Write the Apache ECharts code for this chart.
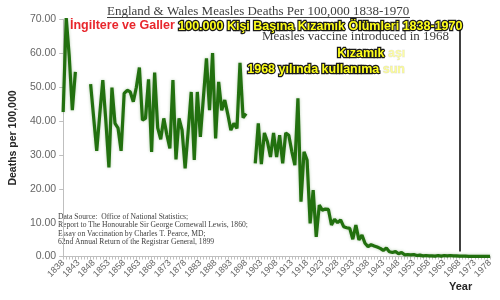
<!DOCTYPE html>
<html>
<head>
<meta charset="utf-8">
<script src="https://cdn.jsdelivr.net/npm/echarts@6/dist/echarts.min.js"></script>
<style>
  html, body { margin: 0; padding: 0; background: #fff; }
  #chart { width: 500px; height: 300px; }
</style>
</head>
<body>
<div id="chart"></div>
<script>
// years on the category axis
var years = [];
for (var y = 1838; y <= 1978; y++) years.push(String(y));

// deaths per 100,000 (null = no data)
var deaths1838 = [42.7, 70.5, 59, 43.2, 54.5, null, null, null, null];
var deaths1847 = [50.9, 41, 31.2, 42, 52.1, 40, 26.3, 49.9, 39.3, 37.9,
                  31.2, 48.2, 49.1, 48.6, 45.7, 50, 55.8, 40.3, 40.8, 52.3,
                  30.9, 54.3, 38, 34.6, 40.8, 36, 31.9, 52.1, 28.7, 40.8,
                  37.3, 26, 37, 48.6, 28.5, 48.6, 35.3, 47, 58.5, 43.2,
                  60.1, 34.9, 51.6, 43.2, 46.2, 42, 37.3, 39.3, 37.8, 57.2,
                  41, 42.2, null, null];
var deaths1901 = [27.5, 39.3, 27.3, 36.5, 33.9, 29.4, 36.5, 29.4, 35.8, 27.5,
                  36.5, 35.8, 31, 27, 46.7, 16.2, 30.9, 28.5, 9.8, 19.6,
                  5.8, 15.2, 13.7, 14, 13.9, 9.3, 11, 10, 10.8, 8.8,
                  8.5, 8.3, 5.1, 9.3, 4.9, 6.3, 3.9, 2.9, 3.5, 3.1,
                  2.8, 2.4, 1.8, 2.5, 1.4, 1.2, 1.5, 0.8, 1.2, 0.5,
                  0.6, 0.5, 0.6, 0.3, 0.4, 0.2, 0.3, 0.2, 0.2, 0.1,
                  0.3, 0.1, 0.3, 0.2, 0.3, 0.2, 0.2, 0.1, 0.1, 0.1,
                  0.05, 0.05, 0.05, 0.05, 0.05, 0.05, 0.05, 0.05];
var deaths = deaths1838.concat(deaths1847, deaths1901);

var yTicks = [0, 10, 20, 30, 40, 50, 60, 70];
var vaccineYear = '1968';

var sourceLines = [
  'Data Source:  Office of National Statistics;',
  'Report to The Honourable Sir George Cornewall Lewis, 1860;',
  'Essay on Vaccination by Charles T. Pearce, MD;',
  '62nd Annual Return of the Registrar General, 1899'
];

var serif = '"Liberation Serif", "DejaVu Serif", serif';
var sans = '"Liberation Sans", Arial, sans-serif';
var subFont = 'bold 12.5px ' + sans;

var myChart = echarts.init(document.getElementById('chart'));

myChart.setOption({
  animation: false,
  backgroundColor: '#fff',
  grid: { left: 53, right: 10, top: 19.5, bottom: 43.5 },
  xAxis: {
    type: 'category',
    data: years,
    boundaryGap: false,
    axisLine: { lineStyle: { color: '#bfbfbf', width: 1 } },
    axisTick: { show: true, interval: 0, length: 3, lineStyle: { color: '#bfbfbf' } },
    axisLabel: { interval: 4, rotate: 45, color: '#666', fontSize: 9, fontFamily: sans, margin: 5 },
    splitLine: { show: false }
  },
  yAxis: {
    type: 'value',
    min: yTicks[0],
    max: yTicks[yTicks.length - 1],
    interval: 10,
    name: 'Deaths per 100,000',
    nameLocation: 'middle',
    nameGap: 38,
    nameTextStyle: { color: '#262626', fontSize: 10.5, fontWeight: 'bold', fontFamily: sans },
    axisLine: { show: true, lineStyle: { color: '#bfbfbf', width: 1 } },
    axisTick: { show: true, length: 4, lineStyle: { color: '#bfbfbf' } },
    axisLabel: {
      color: '#666', fontSize: 10.5, fontFamily: sans, margin: 7,
      formatter: function (v) { return v.toFixed(2); }
    },
    splitLine: { show: false }
  },
  series: [{
    type: 'line',
    data: deaths,
    symbol: 'none',
    connectNulls: false,
    lineStyle: { color: '#22700f', width: 3.2, shadowColor: 'rgba(40,110,20,0.35)', shadowBlur: 3 },
    markLine: {
      silent: true,
      symbol: ['none', 'arrow'],
      symbolSize: [0, 11],
      label: { show: false },
      lineStyle: { color: '#000', width: 1.5, type: 'solid' },
      data: [[{ coord: [vaccineYear, 67] }, { coord: [vaccineYear, 1.5] }]]
    }
  }],
  graphic: [
    {
      type: 'text', left: 107, top: 5,
      style: { text: 'England & Wales Measles Deaths Per 100,000 1838-1970', font: '13px ' + serif, fill: '#404040' }
    },
    {
      type: 'line', shape: { x1: 107, y1: 17.5, x2: 410, y2: 17.5 },
      style: { stroke: '#404040', lineWidth: 1 }
    },
    {
      type: 'text', left: 262, top: 30,
      style: { text: 'Measles vaccine introduced in 1968', font: '13px ' + serif, fill: '#404040' }
    },
    {
      type: 'text', left: 70, top: 19,
      style: { text: 'İngiltere ve Galler', font: subFont, fill: '#e8262c' }
    },
    {
      type: 'text', left: 177, top: 19,
      style: {
        text: '100.000 Kişi Başına Kızamık Ölümleri 1838-1970', font: subFont,
        fill: '#ffff1a', stroke: '#1a1a1a', lineWidth: 2.5
      }
    },
    {
      type: 'text', left: 336, top: 46,
      style: {
        font: subFont,
        rich: {
          a: { font: subFont, fill: '#ffff1a', stroke: '#1a1a1a', lineWidth: 2.5 },
          b: { font: subFont, fill: 'rgba(255,255,60,0.45)', stroke: 'rgba(0,0,0,0.08)', lineWidth: 1 },
          c: { font: subFont, fill: 'rgba(255,255,60,0)' }
        },
        text: '{a|Kızamık }{b|aşı}{c|sı}'
      }
    },
    {
      type: 'text', left: 246, top: 62,
      style: {
        font: subFont,
        rich: {
          a: { font: subFont, fill: '#ffff1a', stroke: '#1a1a1a', lineWidth: 2.5 },
          b: { font: subFont, fill: 'rgba(255,255,60,0.5)', stroke: 'rgba(0,0,0,0.1)', lineWidth: 1 },
          c: { font: subFont, fill: 'rgba(255,255,60,0)' }
        },
        text: '{a|1968 yılında kullanıma }{b|sun}{c|uldu}'
      }
    },
    {
      type: 'text', left: 58, top: 213,
      style: { text: sourceLines.join('\n'), font: '7.6px ' + serif, fill: '#404040', lineHeight: 8.3 }
    },
    {
      type: 'text', left: 449, top: 281,
      style: { text: 'Year', font: 'bold 11px ' + sans, fill: '#262626' }
    }
  ]
});
</script>
</body>
</html>
